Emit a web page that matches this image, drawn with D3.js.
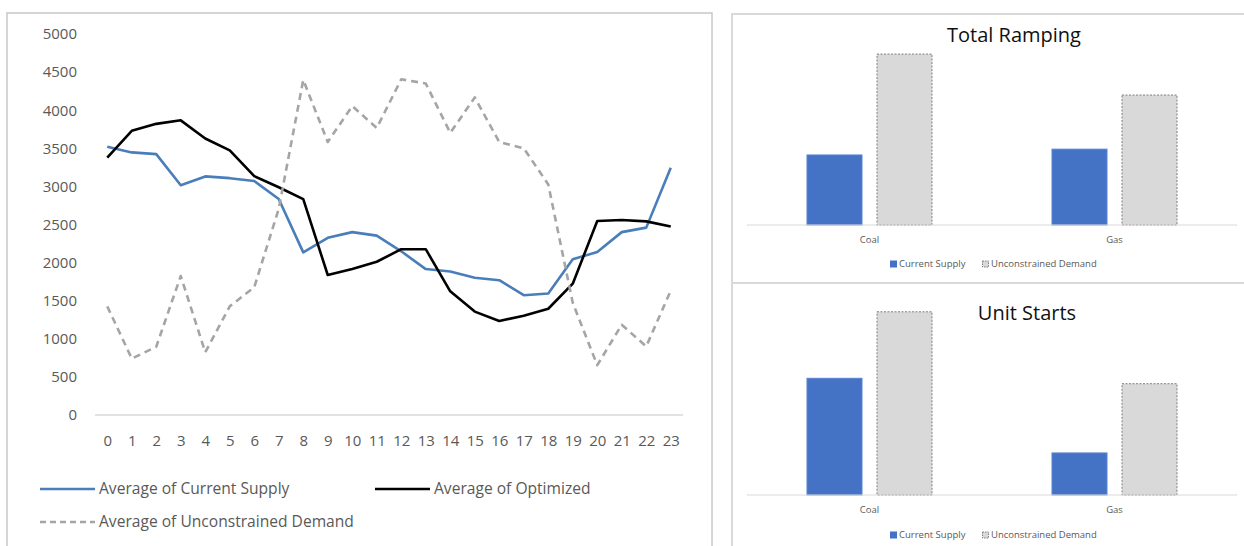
<!DOCTYPE html>
<html>
<head>
<meta charset="utf-8">
<script src="https://cdn.jsdelivr.net/npm/d3@7"></script>
<style>
  body { margin: 0; background: #fff; }
  svg { display: block; font-family: "Open Sans", "Noto Sans", sans-serif; }
</style>
</head>
<body>
<div id="chart"></div>
<script>
// hourly averages
var hours = d3.range(0, 24);
var currentSupply = [3520, 3446, 3423, 3016, 3131, 3108, 3071, 2834, 2134, 2326, 2400, 2354,
                     2148, 1915, 1883, 1801, 1769, 1572, 1595, 2043, 2139, 2400, 2459, 3245];
var optimized = [3378, 3730, 3821, 3867, 3629, 3473, 3135, 2989, 2834, 1837, 1915, 2011,
                 2176, 2176, 1623, 1357, 1234, 1303, 1394, 1723, 2546, 2559, 2541, 2473];
var unconstrained = [1426, 740, 896, 1824, 823, 1426, 1677, 2706, 4397, 3583, 4054, 3766,
                     4406, 4351, 3702, 4168, 3583, 3501, 3026, 1472, 654, 1184, 900, 1632];
var yTicks = d3.range(0, 5001, 500);

// right side bar charts
var fuels = ["Coal", "Gas"];
var barSeries = ["Current Supply", "Unconstrained Demand"];
var rampCurrent = [1385, 1500];
var rampUnconstrained = [3380, 2570];
var startsCurrent = [86, 31];
var startsUnconstrained = [135, 82];

var W = 1244, H = 546;
var svg = d3.select("#chart").append("svg")
  .attr("width", W)
  .attr("height", H);

// ---------- left line chart ----------
svg.append("rect")
  .attr("x", 7).attr("y", 13)
  .attr("width", 705).attr("height", 545)
  .style("fill", "none")
  .style("stroke", "#c8c8c8")
  .style("stroke-width", 1.5);

var x = d3.scalePoint().domain(hours).range([95, 683]).padding(0.5);
var y = d3.scaleLinear().domain([0, 5000]).range([415, 34]);

var yAxis = d3.axisLeft(y).tickValues(yTicks).tickFormat(d3.format("d")).tickSize(0).tickPadding(18);
var gy = svg.append("g")
  .attr("transform", "translate(95,0)")
  .call(yAxis);
gy.select(".domain").remove();
gy.selectAll("text")
  .style("font-size", "15px")
  .style("font-family", "'Open Sans', sans-serif")
  .style("fill", "#595959");

svg.append("line")
  .attr("x1", 95).attr("x2", 683)
  .attr("y1", y(0)).attr("y2", y(0))
  .style("stroke", "#d9d9d9")
  .style("stroke-width", 1.5);

var xAxis = d3.axisBottom(x).tickSize(0).tickPadding(20);
var gx = svg.append("g")
  .attr("transform", "translate(0," + y(0) + ")")
  .call(xAxis);
gx.select(".domain").remove();
gx.selectAll("text")
  .style("font-size", "15px")
  .style("font-family", "'Open Sans', sans-serif")
  .style("fill", "#595959");

var line = d3.line()
  .x(function(d, i){ return x(hours[i]); })
  .y(function(d){ return y(d); });

var lines = [
  {name: "Average of Current Supply", values: currentSupply, color: "#4a7ebb", dash: null},
  {name: "Average of Optimized", values: optimized, color: "#000000", dash: null},
  {name: "Average of Unconstrained Demand", values: unconstrained, color: "#a5a5a5", dash: "7,5"}
];

lines.forEach(function(s){
  svg.append("path")
    .datum(s.values)
    .attr("d", line)
    .style("fill", "none")
    .style("stroke", s.color)
    .style("stroke-width", 2.6)
    .style("stroke-linejoin", "round")
    .style("stroke-dasharray", s.dash);
});

// legend
var legPos = [[40, 489], [375, 489], [40, 522]];
lines.forEach(function(s, i){
  var g = svg.append("g").attr("transform", "translate(" + legPos[i][0] + "," + legPos[i][1] + ")");
  g.append("line")
    .attr("x1", 0).attr("x2", 55)
    .style("stroke", s.color)
    .style("stroke-width", 2.6)
    .style("stroke-dasharray", s.dash ? "6,4" : null);
  g.append("text")
    .attr("x", 59).attr("y", 0)
    .attr("dy", "0.35em")
    .style("font-size", "15.6px")
    .style("fill", "#595959")
    .text(s.name);
});

// ---------- right bar charts ----------
function barChart(top, bottom, base, yTop, title, titleX, titleY, cur, unc, yMax, legY, labelY){
  svg.append("rect")
    .attr("x", 732).attr("y", top)
    .attr("width", 530).attr("height", bottom - top)
    .style("fill", "none")
    .style("stroke", "#d9d9d9")
    .style("stroke-width", 2);

  svg.append("text")
    .attr("x", titleX).attr("y", titleY)
    .attr("text-anchor", "middle")
    .style("font-size", "20px")
    .style("fill", "#111")
    .text(title);

  var x0 = d3.scaleBand().domain(fuels).range([747, 1237]);
  var x1 = d3.scaleBand().domain(barSeries).range([0, x0.bandwidth()])
    .paddingInner(0.214).paddingOuter(0.857);
  var yb = d3.scaleLinear().domain([0, yMax]).range([base, yTop]);

  var rows = fuels.map(function(f, i){ return {fuel: f, vals: [cur[i], unc[i]]}; });

  var grp = svg.selectAll(null)
    .data(rows).enter()
    .append("g")
    .attr("transform", function(d){ return "translate(" + x0(d.fuel) + ",0)"; });

  grp.selectAll("rect")
    .data(function(d){ return d.vals.map(function(v, j){ return {s: barSeries[j], v: v}; }); })
    .enter().append("rect")
    .attr("x", function(d){ return x1(d.s); })
    .attr("width", x1.bandwidth())
    .attr("y", function(d){ return yb(d.v); })
    .attr("height", function(d){ return base - yb(d.v); })
    .style("fill", function(d){ return d.s == "Current Supply" ? "#4472c4" : "#d9d9d9"; })
    .style("stroke", function(d){ return d.s == "Current Supply" ? "#5b85d0" : "#7f7f7f"; })
    .style("stroke-width", 1)
    .style("stroke-dasharray", function(d){ return d.s == "Current Supply" ? null : "2,1.5"; });

  svg.append("line")
    .attr("x1", 747).attr("x2", 1237)
    .attr("y1", base).attr("y2", base)
    .style("stroke", "#d9d9d9")
    .style("stroke-width", 1);

  var ax = d3.axisBottom(x0).tickSize(0).tickPadding(labelY);
  var gax = svg.append("g").attr("transform", "translate(0," + base + ")").call(ax);
  gax.select(".domain").remove();
  gax.selectAll("text")
    .style("font-size", "9.5px")
    .style("font-family", "'Open Sans', sans-serif")
    .style("fill", "#595959");

  // legend
  var lg = svg.append("g").attr("transform", "translate(890," + legY + ")");
  lg.append("rect").attr("x", 0).attr("y", -3.5).attr("width", 7).attr("height", 7)
    .style("fill", "#4472c4");
  lg.append("text").attr("x", 9).attr("dy", "0.35em")
    .style("font-size", "9.5px").style("fill", "#595959").text(barSeries[0]);
  lg.append("rect").attr("x", 92.5).attr("y", -3).attr("width", 6).attr("height", 6)
    .style("fill", "#d9d9d9").style("stroke", "#7f7f7f").style("stroke-width", 1)
    .style("stroke-dasharray", "1.5,1");
  lg.append("text").attr("x", 101).attr("dy", "0.35em")
    .style("font-size", "9.5px").style("fill", "#595959").text(barSeries[1]);
}

barChart(14, 283, 225, 48, "Total Ramping", 1014, 42, rampCurrent, rampUnconstrained, 3500, 264, 11);
barChart(283, 560, 495, 305, "Unit Starts", 1027, 320, startsCurrent, startsUnconstrained, 140, 535, 11);
</script>
</body>
</html>
